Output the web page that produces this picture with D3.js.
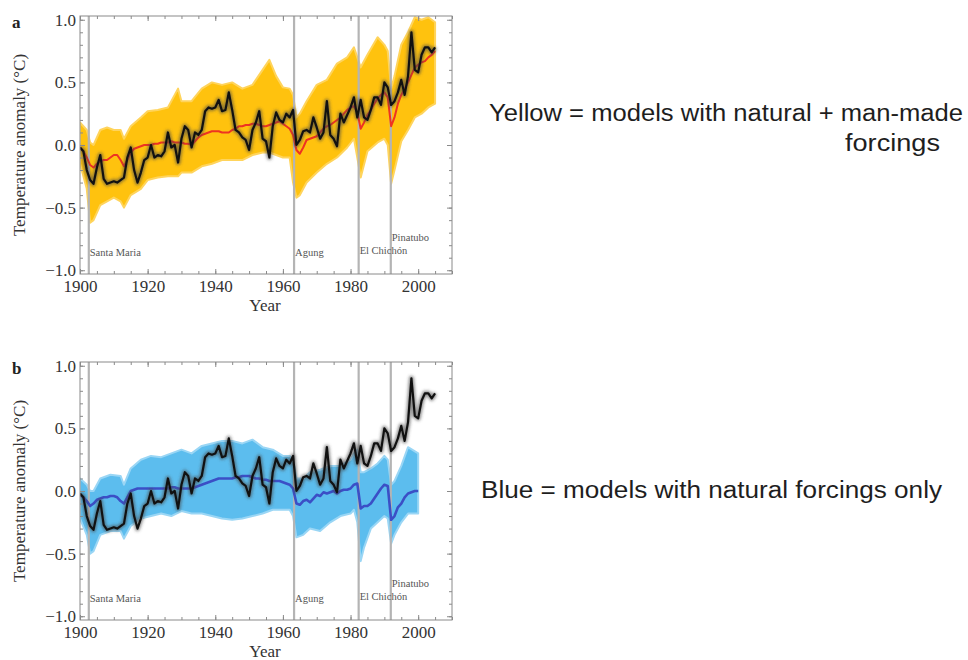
<!DOCTYPE html>
<html>
<head>
<meta charset="utf-8">
<title>Temperature anomaly: models vs observations</title>
<script src="https://d3js.org/d3.v7.min.js"></script>
<style>
  body { margin: 0; background: #fff; }
  svg text { font-family: "Liberation Serif", "Times New Roman", serif; }
  .note { font-family: "Liberation Sans", Arial, sans-serif; }
</style>
</head>
<body>
<svg id="chart" width="968" height="660"></svg>
<script>
// observed annual anomaly (black line), 1900-2005
var years = d3.range(1900, 2006);
var observed = [
  -0.02, -0.05, -0.20, -0.28, -0.31, -0.18, -0.08, -0.27, -0.31, -0.30,
  -0.29, -0.30, -0.28, -0.26, -0.10, -0.02, -0.20, -0.30, -0.22, -0.12,
  -0.10,  0.00, -0.10, -0.08, -0.09, -0.05,  0.10, -0.02,  0.00, -0.14,
   0.05,  0.15,  0.12, -0.02,  0.10,  0.08,  0.12,  0.27,  0.30,  0.29,
   0.30,  0.36,  0.27,  0.28,  0.42,  0.28,  0.12,  0.10,  0.06,  0.04,
  -0.04,  0.12,  0.18,  0.27,  0.05,  0.03, -0.10,  0.15,  0.26,  0.20,
   0.18,  0.25,  0.22,  0.28,  0.00,  0.04,  0.11,  0.12,  0.10,  0.22,
   0.14,  0.05,  0.10,  0.35,  0.08,  0.05, -0.01,  0.25,  0.18,  0.24,
   0.30,  0.38,  0.22,  0.36,  0.22,  0.20,  0.28,  0.38,  0.38,  0.32,
   0.50,  0.46,  0.32,  0.35,  0.42,  0.52,  0.40,  0.55,  0.90,  0.60,
   0.58,  0.72,  0.78,  0.78,  0.74,  0.78
];

// ensemble mean, natural + man-made forcings (red line), 1900-2005
var meanAll = [
  -0.02, -0.05, -0.10, -0.16, -0.18, -0.15, -0.13, -0.12, -0.12, -0.10,
  -0.08, -0.08, -0.12, -0.17, -0.12, -0.06, -0.03, -0.02, -0.01,  0.00,
   0.00,  0.00,  0.01,  0.01,  0.02,  0.02,  0.02,  0.03,  0.02,  0.02,
   0.02,  0.01,  0.01,  0.00,  0.03,  0.06,  0.08,  0.09,  0.10,  0.11,
   0.11,  0.11,  0.10,  0.10,  0.10,  0.12,  0.13,  0.15,  0.15,  0.16,
   0.16,  0.17,  0.17,  0.16,  0.15,  0.15,  0.16,  0.17,  0.18,  0.19,
   0.17,  0.15,  0.13,  0.08, -0.04, -0.07, -0.02,  0.04,  0.05,  0.06,
   0.07,  0.10,  0.13,  0.15,  0.16,  0.18,  0.20,  0.22,  0.25,  0.28,
   0.30,  0.31,  0.26,  0.13,  0.18,  0.24,  0.28,  0.33,  0.37,  0.40,
   0.42,  0.38,  0.15,  0.22,  0.33,  0.40,  0.45,  0.50,  0.56,  0.62,
   0.64,  0.66,  0.67,  0.70,  0.72,  0.75
];

// ensemble mean, natural forcings only (blue line), 1900-2000
var natYears = d3.range(1900, 2001);
var meanNat = [
  -0.03, -0.05, -0.08, -0.12, -0.10, -0.07, -0.06, -0.05, -0.05, -0.04,
  -0.04, -0.05, -0.08, -0.10, -0.05,  0.00,  0.01,  0.02,  0.02,  0.02,
   0.02,  0.02,  0.02,  0.02,  0.02,  0.02,  0.02,  0.03,  0.03,  0.02,
   0.02,  0.02,  0.02,  0.02,  0.03,  0.04,  0.05,  0.06,  0.07,  0.08,
   0.09,  0.10,  0.10,  0.10,  0.10,  0.10,  0.11,  0.11,  0.12,  0.12,
   0.12,  0.11,  0.10,  0.10,  0.09,  0.09,  0.08,  0.08,  0.08,  0.08,
   0.07,  0.06,  0.05,  0.02, -0.10, -0.11, -0.08, -0.07, -0.09, -0.06,
  -0.03, -0.04, -0.01, -0.02, -0.01,  0.00, -0.02,  0.00,  0.01,  0.01,
   0.02,  0.05,  0.06, -0.14, -0.12, -0.12, -0.10, -0.06, -0.02,  0.02,
   0.05,  0.04, -0.23, -0.20, -0.13, -0.10, -0.05, -0.02, -0.01,  0.00,
   0.00
];

// spread of the individual model runs (yellow band)
var bandYearsAll = [1900, 1902, 1903, 1904, 1906, 1908, 1910, 1912, 1913, 1915,
  1918, 1920, 1923, 1926, 1929, 1930, 1933, 1936, 1939, 1942,
  1945, 1948, 1951, 1954, 1956, 1958, 1960, 1962, 1963, 1964,
  1965, 1967, 1970, 1973, 1976, 1979, 1981, 1982, 1983, 1985,
  1988, 1990, 1991, 1992, 1993, 1995, 1997, 1999, 2001, 2003, 2005];
var bandHighAll = [0.18, 0.12, 0.02, 0.00, 0.12, 0.14, 0.12, 0.12, 0.05, 0.15,
  0.22, 0.27, 0.28, 0.30, 0.45, 0.35, 0.35, 0.45, 0.50, 0.48,
  0.50, 0.45, 0.48, 0.60, 0.68, 0.55, 0.46, 0.45, 0.40, 0.22,
  0.25, 0.35, 0.48, 0.52, 0.65, 0.70, 0.78, 0.70, 0.62, 0.72,
  0.86, 0.80, 0.75, 0.45, 0.55, 0.80, 0.90, 1.02, 1.00, 1.02, 0.98];
var bandLowAll = [-0.15, -0.35, -0.62, -0.60, -0.48, -0.45, -0.42, -0.45, -0.50, -0.40,
  -0.35, -0.28, -0.26, -0.25, -0.25, -0.22, -0.22, -0.17, -0.15, -0.12,
  -0.12, -0.12, -0.08, -0.06, -0.06, -0.08, -0.10, -0.10, -0.30, -0.42,
  -0.40, -0.30, -0.22, -0.15, -0.10, -0.02, 0.05, -0.10, -0.26, -0.05,
  0.02, 0.05, 0.00, -0.31, -0.20, 0.03, 0.12, 0.22, 0.25, 0.30, 0.33];

// spread of the individual model runs (blue band)
var bandYearsNat = [1900, 1902, 1903, 1904, 1906, 1909, 1912, 1913, 1915, 1918,
  1921, 1924, 1927, 1930, 1933, 1936, 1939, 1942, 1945, 1948,
  1951, 1954, 1957, 1960, 1962, 1963, 1964, 1966, 1968, 1971,
  1974, 1977, 1980, 1981, 1982, 1983, 1984, 1986, 1988, 1990,
  1991, 1992, 1993, 1995, 1997, 2000];
var bandHighNat = [0.10, 0.05, 0.00, 0.00, 0.10, 0.13, 0.12, 0.05, 0.18, 0.25,
  0.28, 0.27, 0.30, 0.33, 0.30, 0.36, 0.38, 0.40, 0.40, 0.38,
  0.41, 0.35, 0.33, 0.28, 0.28, 0.25, 0.10, 0.10, 0.15, 0.17,
  0.20, 0.20, 0.25, 0.30, 0.33, 0.15, 0.15, 0.18, 0.22, 0.28,
  0.25, 0.05, 0.08, 0.20, 0.35, 0.30];
var bandLowNat = [-0.22, -0.35, -0.50, -0.48, -0.35, -0.32, -0.32, -0.38, -0.28, -0.22,
  -0.20, -0.18, -0.20, -0.16, -0.18, -0.18, -0.20, -0.22, -0.23, -0.22,
  -0.20, -0.18, -0.15, -0.15, -0.15, -0.20, -0.37, -0.35, -0.30, -0.32,
  -0.25, -0.20, -0.18, -0.15, -0.25, -0.56, -0.45, -0.30, -0.25, -0.20,
  -0.22, -0.42, -0.35, -0.25, -0.18, -0.18];

var volcanoes = ["Santa Maria", "Agung", "El Chichón", "Pinatubo"];
var eruptions = [1902.6, 1963.3, 1982.4, 1991.9];

var xTicks = [1900, 1920, 1940, 1960, 1980, 2000];
var xMinor = d3.range(1900, 2011, 5);
var yTicks = [-1.0, -0.5, 0.0, 0.5, 1.0];
var yMinor = d3.range(-10, 11).map(function(d) { return d / 10; });

var svg = d3.select("#chart");

// soft blur for the halo round the observed curve
svg.append("defs").append("filter").attr("id", "soft")
  .attr("x", "-5%").attr("y", "-5%").attr("width", "110%").attr("height", "110%")
  .append("feGaussianBlur").attr("stdDeviation", 1.4);

var left = 80, right = 452, ph = 258;
var x = d3.scaleLinear().domain([1900, 2010]).range([left, right]);

function zip(ys, hi, lo) {
  return ys.map(function(yr, i) { return {year: yr, hi: hi[i], lo: lo[i]}; });
}

function drawPanel(top, letter, band, bandColor, edgeColor, mYears, mean, meanColor, meanWidth) {
  var y = d3.scaleLinear().domain([-1.03, 1.03]).range([top + ph, top]);
  var g = svg.append("g");

  var clipId = "clip-" + letter;
  svg.append("clipPath").attr("id", clipId)
    .append("rect").attr("x", left).attr("y", top).attr("width", right - left).attr("height", ph);

  var plot = g.append("g").attr("clip-path", "url(#" + clipId + ")");

  // model spread
  plot.append("path")
    .datum(band)
    .attr("fill", bandColor)
    .attr("stroke", edgeColor)
    .attr("stroke-width", 2)
    .attr("stroke-linejoin", "round")
    .attr("d", d3.area()
      .x(function(d) { return x(d.year); })
      .y0(function(d) { return y(d.lo); })
      .y1(function(d) { return y(d.hi); }));

  // volcanic eruptions
  plot.selectAll("line.volc")
    .data(eruptions)
    .enter().append("line")
    .attr("class", "volc")
    .attr("x1", function(d) { return x(d); })
    .attr("x2", function(d) { return x(d); })
    .attr("y1", top).attr("y2", top + ph)
    .attr("stroke", "#b4b4b4")
    .attr("stroke-width", 2.2);

  g.selectAll("text.volc")
    .data(volcanoes)
    .enter().append("text")
    .attr("class", "volc")
    .attr("x", function(d, i) { return x(eruptions[i]) + 1; })
    .attr("y", function(d, i) { return top + ph - (d === "Pinatubo" ? 33 : (d === "El Chichón" ? 20 : 18)); })
    .attr("font-size", 10.5)
    .attr("fill", "#555")
    .text(function(d) { return d; });

  // ensemble mean
  var line = d3.line()
    .x(function(d) { return x(d[0]); })
    .y(function(d) { return y(d[1]); });

  plot.append("path")
    .datum(d3.zip(mYears, mean))
    .attr("fill", "none")
    .attr("stroke", meanColor)
    .attr("stroke-width", meanWidth)
    .attr("stroke-linejoin", "round")
    .attr("d", line);

  // observations, with soft halo
  var obs = d3.zip(years, observed);
  plot.append("path")
    .datum(obs)
    .attr("fill", "none")
    .attr("stroke", "#444")
    .attr("stroke-opacity", 0.6)
    .attr("stroke-width", 5)
    .attr("stroke-linejoin", "round")
    .attr("filter", "url(#soft)")
    .attr("d", line);
  plot.append("path")
    .datum(obs)
    .attr("fill", "none")
    .attr("stroke", "#111")
    .attr("stroke-width", 2.2)
    .attr("stroke-linejoin", "round")
    .attr("d", line);

  // frame
  g.append("rect")
    .attr("x", left).attr("y", top)
    .attr("width", right - left).attr("height", ph)
    .attr("fill", "none")
    .attr("stroke", "#8a8a8a")
    .attr("stroke-width", 1);

  // axes, ticks pointing inwards on all four sides
  function axis(gen, tx, ty, vals, size, fmt, pad) {
    var a = g.append("g")
      .attr("transform", "translate(" + tx + "," + ty + ")")
      .call(gen.tickValues(vals).tickSize(size).tickSizeOuter(0)
        .tickPadding(pad || 3).tickFormat(fmt || ""));
    a.select(".domain").remove();
    a.selectAll(".tick line").attr("stroke", "#8a8a8a");
    a.selectAll(".tick text").attr("font-size", 17).attr("fill", "#333")
      .attr("font-family", "Liberation Serif, serif");
    return a;
  }
  axis(d3.axisBottom(x), 0, top + ph, xTicks, -5, d3.format("d"), 6);
  axis(d3.axisBottom(x), 0, top + ph, xMinor, -3);
  axis(d3.axisTop(x), 0, top, xTicks, -5);
  axis(d3.axisTop(x), 0, top, xMinor, -3);
  axis(d3.axisLeft(y), left, 0, yTicks, -5, d3.format(".1f"), 4);
  axis(d3.axisLeft(y), left, 0, yMinor, -3);
  axis(d3.axisRight(y), right, 0, yTicks, -5);
  axis(d3.axisRight(y), right, 0, yMinor, -3);

  // titles
  g.append("text")
    .attr("x", (left + right) / 2 - 1)
    .attr("y", top + ph + 37)
    .attr("text-anchor", "middle")
    .attr("font-size", 17)
    .attr("fill", "#333")
    .text("Year");

  g.append("text")
    .attr("transform", "translate(25," + (top + ph / 2) + ") rotate(-90)")
    .attr("text-anchor", "middle")
    .attr("font-size", 17)
    .attr("fill", "#333")
    .text("Temperature anomaly (°C)");

  g.append("text")
    .attr("x", 12)
    .attr("y", top + 12)
    .attr("font-size", 17)
    .attr("font-weight", "bold")
    .attr("fill", "#222")
    .text(letter);
}

drawPanel(16, "a", zip(bandYearsAll, bandHighAll, bandLowAll), "#ffc20e", "#ffd45c",
  years, meanAll, "#ee3322", 2);
drawPanel(362, "b", zip(bandYearsNat, bandHighNat, bandLowNat), "#5cbdee", "#9ad6f5",
  natYears, meanNat, "#3b4fc6", 2.6);

// explanatory notes
svg.append("text").attr("class", "note")
  .attr("x", 489).attr("y", 121)
  .attr("font-size", 23).attr("fill", "#1e1e1e")
  .attr("textLength", 474).attr("lengthAdjust", "spacingAndGlyphs")
  .text("Yellow = models with natural + man-made");
svg.append("text").attr("class", "note")
  .attr("x", 845).attr("y", 151)
  .attr("font-size", 23).attr("fill", "#1e1e1e")
  .attr("textLength", 95).attr("lengthAdjust", "spacingAndGlyphs")
  .text("forcings");
svg.append("text").attr("class", "note")
  .attr("x", 481).attr("y", 498)
  .attr("font-size", 23).attr("fill", "#1e1e1e")
  .attr("textLength", 461).attr("lengthAdjust", "spacingAndGlyphs")
  .text("Blue = models with natural forcings only");
</script>
</body>
</html>
